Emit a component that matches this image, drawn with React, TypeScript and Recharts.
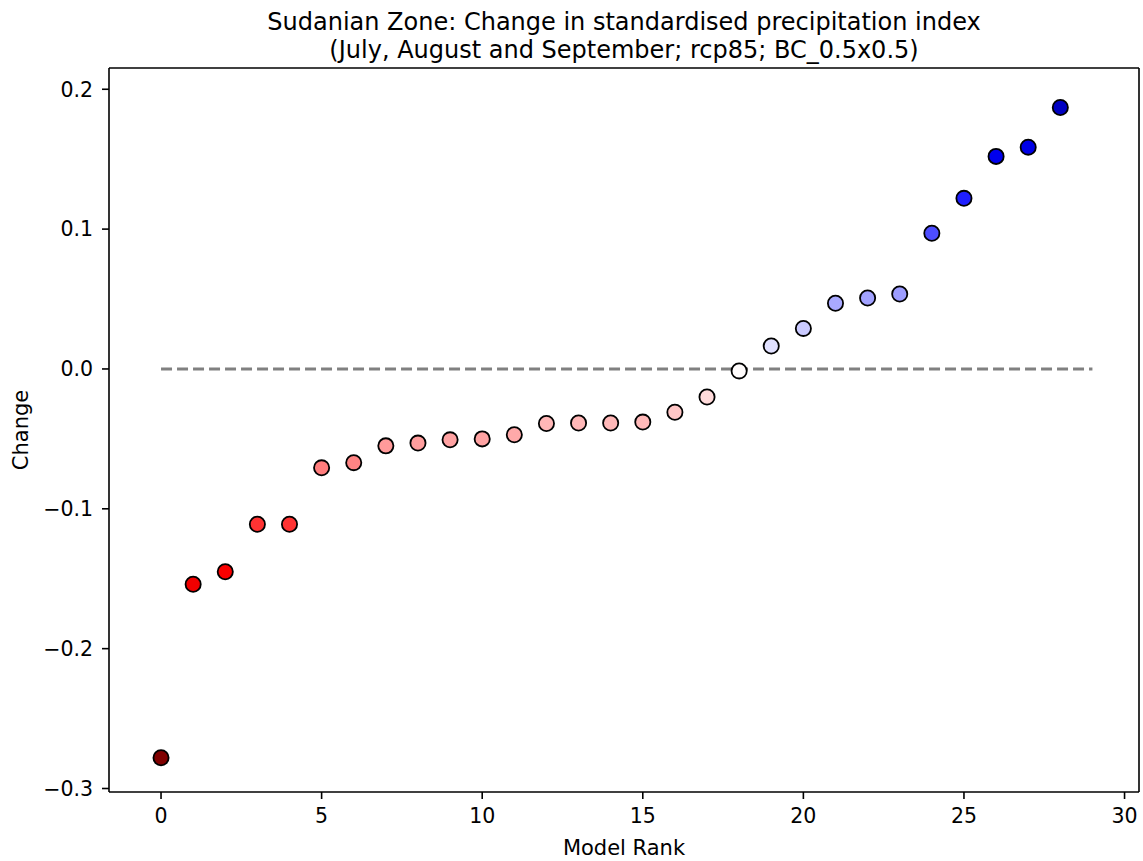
import React from 'react';
import { ScatterChart, Scatter, XAxis, YAxis, ReferenceLine } from 'recharts';

const ranks = [0, 1, 2, 3, 4, 5, 6, 7, 8, 9, 10, 11, 12, 13, 14, 15, 16, 17, 18, 19, 20, 21, 22, 23, 24, 25, 26, 27, 28];
const changes = [
  -0.278, -0.154, -0.145, -0.111, -0.111, -0.0707, -0.067, -0.055, -0.053, -0.0507,
  -0.05, -0.047, -0.039, -0.0386, -0.0386, -0.038, -0.031, -0.02, -0.0014, 0.0164,
  0.029, 0.047, 0.0507, 0.0536, 0.097, 0.122, 0.152, 0.1586, 0.187,
];
const xTicks = [0, 5, 10, 15, 20, 25, 30];
const yTicks = [-0.3, -0.2, -0.1, 0.0, 0.1, 0.2];
const titleLines = [
  'Sudanian Zone: Change in standardised precipitation index',
  '(July, August and September; rcp85; BC_0.5x0.5)',
];
const xLabel = 'Model Rank';
const yLabel = 'Change';
const xDomain: [number, number] = [-1.62, 30.45];
const yDomain: [number, number] = [-0.3025, 0.2152];

const data = ranks.map((r, i) => ({ rank: r, change: changes[i] }));

const maxAbs = Math.max(...changes.map((v) => Math.abs(v)));

// matplotlib "seismic" colormap, reversed
const stops: [number, number[]][] = [
  [0, [0, 0, 0.3]],
  [0.25, [0, 0, 1]],
  [0.5, [1, 1, 1]],
  [0.75, [1, 0, 0]],
  [1, [0.5, 0, 0]],
];
function seismic(s: number): string {
  s = Math.min(1, Math.max(0, s));
  for (let i = 0; i < stops.length - 1; i++) {
    const [a, ca] = stops[i];
    const [b, cb] = stops[i + 1];
    if (s <= b) {
      const f = (s - a) / (b - a);
      const c = ca.map((v, k) => Math.round((v + (cb[k] - v) * f) * 255));
      return `rgb(${c[0]},${c[1]},${c[2]})`;
    }
  }
  return 'rgb(128,0,0)';
}
function colorOf(v: number): string {
  const t = (v + maxAbs) / (2 * maxAbs);
  return seismic(1 - t);
}

const FONT = 'DejaVu Sans';
const fmtY = (v: number) => {
  const s = Math.abs(v) < 1e-9 ? '0.0' : v.toFixed(1);
  return s.replace('-', '\u2212');
};

const tickStyle = { fill: '#000', fontSize: 20.5, fontFamily: FONT };
const axisLineStyle = { stroke: '#000', strokeWidth: 1.6 };

const Dot = (props: any) => {
  const { cx, cy, payload } = props;
  if (cx == null || cy == null) return null;
  return <circle cx={cx} cy={cy} r={7.6} fill={colorOf(payload.change)} stroke="#000" strokeWidth={1.8} />;
};

export default function App() {
  return (
    <div style={{ position: 'absolute', left: 0, top: 0, width: 1143, height: 861, background: '#fff', fontFamily: FONT }}>
      <ScatterChart width={1143} height={861} margin={{ top: 68, right: 4, bottom: 0, left: 0 }}>
        <XAxis
          dataKey="rank"
          type="number"
          domain={xDomain}
          allowDataOverflow
          ticks={xTicks}
          height={69}
          tickSize={7}
          tickMargin={9}
          tick={tickStyle}
          tickLine={axisLineStyle}
          axisLine={axisLineStyle}
          interval={0}
        />
        <YAxis
          dataKey="change"
          type="number"
          domain={yDomain}
          allowDataOverflow
          ticks={yTicks}
          width={109}
          tickSize={7}
          tickMargin={9}
          tick={tickStyle}
          tickLine={axisLineStyle}
          axisLine={axisLineStyle}
          tickFormatter={fmtY}
          interval={0}
        />
        <ReferenceLine y={yDomain[1]} stroke="#000" strokeWidth={1.6} ifOverflow="visible" />
        <ReferenceLine x={xDomain[1]} stroke="#000" strokeWidth={1.6} ifOverflow="visible" />
        <ReferenceLine
          segment={[{ x: 0, y: 0 }, { x: 29, y: 0 }]}
          stroke="#808080"
          strokeWidth={3}
          strokeDasharray="11 5"
          ifOverflow="visible"
        />
        <Scatter data={data} isAnimationActive={false} shape={<Dot />} />
      </ScatterChart>
      {titleLines.map((t, i) => (
        <div
          key={i}
          style={{
            position: 'absolute',
            left: 0,
            width: 1248,
            top: 8 + i * 28,
            textAlign: 'center',
            fontSize: 24,
            lineHeight: '28px',
            color: '#000',
            whiteSpace: 'nowrap',
          }}
        >
          {t}
        </div>
      ))}
      <div
        style={{
          position: 'absolute',
          left: 0,
          width: 1248,
          top: 836,
          textAlign: 'center',
          fontSize: 21,
          lineHeight: '24px',
          color: '#000',
        }}
      >
        {xLabel}
      </div>
      <div
        style={{
          position: 'absolute',
          left: 21,
          top: 430,
          transform: 'translate(-50%, -50%) rotate(-90deg)',
          fontSize: 21,
          lineHeight: '24px',
          color: '#000',
          whiteSpace: 'nowrap',
        }}
      >
        {yLabel}
      </div>
    </div>
  );
}
